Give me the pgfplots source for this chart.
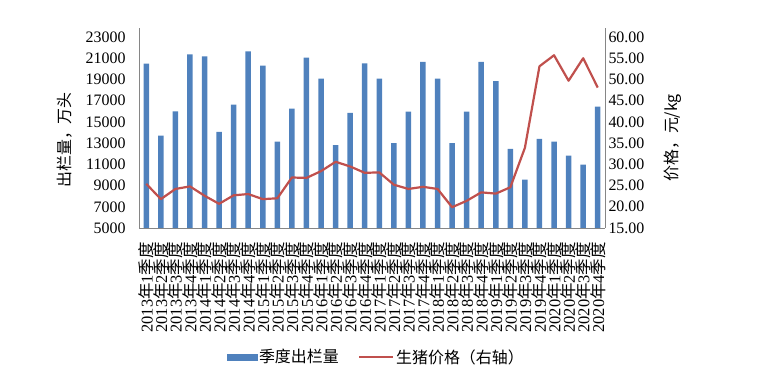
\documentclass[border=0pt]{standalone}
\usepackage{fontspec}
\setmainfont{Liberation Serif}
\newfontfamily\cjk{Noto Sans CJK SC}
\usepackage{pgfplots}
\pgfplotsset{compat=1.18}
\definecolor{barblue}{RGB}{79,129,189}
\definecolor{linered}{RGB}{192,80,77}
\definecolor{axgray}{RGB}{134,134,134}
\newcommand{\q}[2]{#1{\cjk 年}#2{\cjk 季度}}
\begin{document}
\begin{tikzpicture}
\useasboundingbox (0,0) rectangle (773bp,384bp);
\begin{axis}[
  at={(139bp,156bp)}, anchor=south west,
  scale only axis, width=466bp, height=200bp,
  xmin=-0.5, xmax=31.5, ymin=5000, ymax=23850,
  axis y line*=left, axis x line*=bottom,
  axis line style={draw=axgray, line width=0.8bp},
  ybar, bar width=5.5bp,
  ytick={5000,7000,...,23000},
  scaled y ticks=false,
  yticklabel style={/pgf/number format/fixed, /pgf/number format/1000 sep={}, /pgf/number format/assume math mode=true, font=\fontsize{16}{18}\selectfont},
  yticklabel shift=10bp,
  major tick length=0pt,
  xtick={0,...,31},
  xticklabels={\q{2013}{1},\q{2013}{2},\q{2013}{3},\q{2013}{4},
               \q{2014}{1},\q{2014}{2},\q{2014}{3},\q{2014}{4},
               \q{2015}{1},\q{2015}{2},\q{2015}{3},\q{2015}{4},
               \q{2016}{1},\q{2016}{2},\q{2016}{3},\q{2016}{4},
               \q{2017}{1},\q{2017}{2},\q{2017}{3},\q{2017}{4},
               \q{2018}{1},\q{2018}{2},\q{2018}{3},\q{2018}{4},
               \q{2019}{1},\q{2019}{2},\q{2019}{3},\q{2019}{4},
               \q{2020}{1},\q{2020}{2},\q{2020}{3},\q{2020}{4}},
  xticklabel style={rotate=90, anchor=east, font=\fontsize{16.5}{18}\selectfont, inner sep=0pt},
  xticklabel shift=14bp,
  ylabel={\cjk 出栏量，万头},
  ylabel style={at={(axis description cs:-0.159,0.44)}, anchor=center, font=\fontsize{16}{18}\selectfont},
]
\addplot[fill=barblue, draw=none] coordinates {
(0,20500) (1,13700) (2,16000) (3,21370)
(4,21180) (5,14050) (6,16620) (7,21650)
(8,20300) (9,13140) (10,16250) (11,21050)
(12,19070) (13,12820) (14,15840) (15,20520)
(16,19070) (17,13010) (18,15960) (19,20650)
(20,19070) (21,13010) (22,15960) (23,20650)
(24,18850) (25,12450) (26,9560) (27,13390)
(28,13140) (29,11820) (30,10970) (31,16440)
};
\end{axis}
\begin{axis}[
  at={(139bp,156bp)}, anchor=south west,
  scale only axis, width=466bp, height=200bp,
  xmin=-0.5, xmax=31.5, ymin=15, ymax=62.125,
  axis y line*=right, axis x line=none,
  axis line style={draw=axgray, line width=0.8bp},
  ytick={15,20,...,60},
  yticklabel style={/pgf/number format/fixed, /pgf/number format/fixed zerofill, /pgf/number format/precision=2, /pgf/number format/assume math mode=true, font=\fontsize{16}{18}\selectfont},
  major tick length=0pt,
  ylabel={\cjk 价格，元/kg},
  ylabel style={at={(axis description cs:1.146,0.45)}, anchor=center, font=\fontsize{16}{18}\selectfont},
  legend style={at={(axis description cs:0.509,-0.645)}, anchor=center, draw=none, legend columns=2,
    font=\cjk\fontsize{16}{18}\selectfont, /tikz/every even column/.style={column sep=18bp}},
]
\addlegendimage{legend image code/.code={\fill[barblue] (0bp,-3bp) rectangle (30bp,3bp);}}
\addlegendentry{季度出栏量}
\addplot[linered, line width=2.2bp, mark=none, line join=round,
  legend image code/.code={\draw[linered, line width=1.5bp] (0bp,0bp) -- (34bp,0bp);}] coordinates {
(0,25.4) (1,21.8) (2,24.2) (3,24.8)
(4,22.6) (5,20.7) (6,22.7) (7,23.0)
(8,21.8) (9,22.0) (10,26.9) (11,26.8)
(12,28.4) (13,30.6) (14,29.5) (15,28.0)
(16,28.1) (17,25.2) (18,24.2) (19,24.7)
(20,24.2) (21,19.9) (22,21.4) (23,23.4)
(24,23.1) (25,24.6) (26,33.9) (27,53.1)
(28,55.7) (29,49.7) (30,55.0) (31,48.1)
};
\addlegendentry{生猪价格（右轴）}
\end{axis}
\end{tikzpicture}
\end{document}
